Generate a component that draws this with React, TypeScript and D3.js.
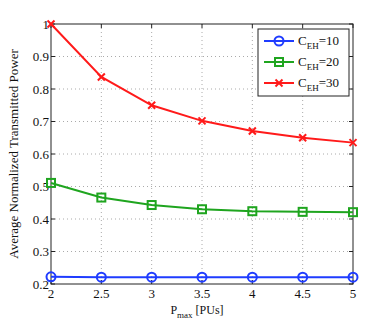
import React from 'react';
import * as d3 from 'd3';

const pmax = [2, 2.5, 3, 3.5, 4, 4.5, 5];
const ceh10 = [0.222, 0.221, 0.221, 0.221, 0.221, 0.221, 0.221];
const ceh20 = [0.511, 0.466, 0.443, 0.430, 0.424, 0.422, 0.421];
const ceh30 = [1.0, 0.837, 0.750, 0.702, 0.671, 0.650, 0.635];
const xTicks = [2, 2.5, 3, 3.5, 4, 4.5, 5];
const yTicks = [0.2, 0.3, 0.4, 0.5, 0.6, 0.7, 0.8, 0.9, 1];
const seriesNames = ['10', '20', '30'];

const W = 390, H = 322;
const m = { left: 51, right: 37, top: 24, bottom: 38 };
const font = '"Liberation Serif", "DejaVu Serif", serif';

export default function App() {
  const x = d3.scaleLinear().domain([2, 5]).range([m.left, W - m.right]);
  const y = d3.scaleLinear().domain([0.2, 1]).range([H - m.bottom, m.top]);
  const line = d3.line<number>().x((_, i) => x(pmax[i])).y(d => y(d));

  const series = [
    { vals: ceh10, color: '#1f3cff', marker: 'o', name: seriesNames[0] },
    { vals: ceh20, color: '#1fa51f', marker: 's', name: seriesNames[1] },
    { vals: ceh30, color: '#ff1a1a', marker: 'x', name: seriesNames[2] },
  ];

  const marker = (kind: string, cx: number, cy: number, color: string, key: any) => {
    if (kind === 'o') return <circle key={key} cx={cx} cy={cy} r={4.5} fill="none" stroke={color} strokeWidth={2} />;
    if (kind === 's') return <rect key={key} x={cx - 4} y={cy - 4} width={8} height={8} fill="none" stroke={color} strokeWidth={2} />;
    return (
      <g key={key} stroke={color} strokeWidth={2}>
        <line x1={cx - 3.5} y1={cy - 3.5} x2={cx + 3.5} y2={cy + 3.5} />
        <line x1={cx - 3.5} y1={cy + 3.5} x2={cx + 3.5} y2={cy - 3.5} />
      </g>
    );
  };

  const x0 = x(2), x1 = x(5), y0 = y(0.2), y1 = y(1);
  const lg = { x: 258, y: 29, w: 91, h: 67 };

  return (
    <svg width={W} height={H} style={{ position: 'absolute', left: 0, top: 0, background: '#fff' }} fontFamily={font}>
      {/* grid */}
      <g stroke="#aaa" strokeWidth={1} strokeDasharray="1,3">
        {xTicks.slice(1, -1).map(t => <line key={'gx' + t} x1={x(t)} x2={x(t)} y1={y1} y2={y0} />)}
        {yTicks.slice(1, -1).map(t => <line key={'gy' + t} x1={x0} x2={x1} y1={y(t)} y2={y(t)} />)}
      </g>
      {/* ticks inward */}
      <g stroke="#222" strokeWidth={1}>
        {xTicks.map(t => (
          <g key={'tx' + t}>
            <line x1={x(t)} x2={x(t)} y1={y0} y2={y0 - 4} />
            <line x1={x(t)} x2={x(t)} y1={y1} y2={y1 + 4} />
          </g>
        ))}
        {yTicks.map(t => (
          <g key={'ty' + t}>
            <line x1={x0} x2={x0 + 4} y1={y(t)} y2={y(t)} />
            <line x1={x1} x2={x1 - 4} y1={y(t)} y2={y(t)} />
          </g>
        ))}
      </g>
      <rect x={x0} y={y1} width={x1 - x0} height={y0 - y1} fill="none" stroke="#222" strokeWidth={1} />
      {/* tick labels */}
      <g fontSize={13} fill="#111">
        {xTicks.map(t => (
          <text key={'lx' + t} x={x(t)} y={y0 + 14} textAnchor="middle">{String(t)}</text>
        ))}
        {yTicks.map(t => (
          <text key={'ly' + t} x={x0 - 2} y={y(t) + 4.5} textAnchor="end">{String(t)}</text>
        ))}
      </g>
      {/* axis labels */}
      <text x={(x0 + x1) / 2 - 5} y={H - 8} textAnchor="middle" fontSize={12} fill="#111">
        P<tspan fontSize={9} dy={4}>max</tspan><tspan dy={-4}> [PUs]</tspan>
      </text>
      <text transform={`translate(18,${(y0 + y1) / 2}) rotate(-90)`} textAnchor="middle" fontSize={13} fill="#111">
        Average Normalized Transmitted Power
      </text>
      {/* series */}
      {series.map((s, si) => (
        <g key={'s' + si}>
          <path d={line(s.vals) || ''} fill="none" stroke={s.color} strokeWidth={2} />
          {s.vals.map((v, i) => marker(s.marker, x(pmax[i]), y(v), s.color, i))}
        </g>
      ))}
      {/* legend */}
      <rect x={lg.x} y={lg.y} width={lg.w} height={lg.h} fill="#fff" stroke="#222" strokeWidth={1} />
      {series.map((s, i) => {
        const cy = lg.y + 12 + i * 21;
        return (
          <g key={'lg' + i}>
            <line x1={lg.x + 6} x2={lg.x + 36} y1={cy} y2={cy} stroke={s.color} strokeWidth={2} />
            {marker(s.marker, lg.x + 21, cy, s.color, 'm')}
            <text x={lg.x + 40} y={cy + 4} fontSize={13} fill="#111">
              C<tspan fontSize={9} dy={4}>EH</tspan><tspan dy={-4}>=</tspan>{s.name}
            </text>
          </g>
        );
      })}
    </svg>
  );
}
